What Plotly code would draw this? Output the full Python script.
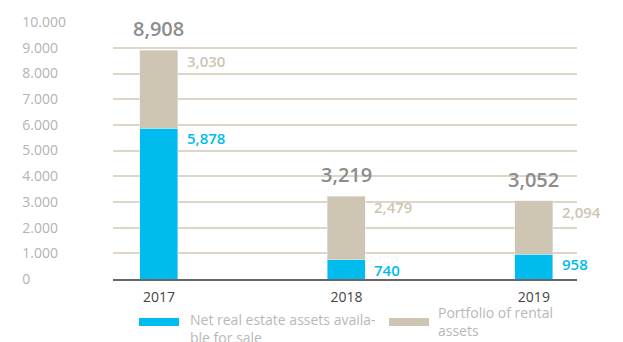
import plotly.graph_objects as go

years = ["2017", "2018", "2019"]
for_sale = [5878, 740, 958]
rental = [3030, 2479, 2094]
totals = [8908, 3219, 3052]

y_ticks = [0, 1000, 2000, 3000, 4000, 5000, 6000, 7000, 8000, 9000, 10000]
y_tick_text = ["0\u2007\u2007\u2007\u2007\u2008", "1.000\u2007", "2.000\u2007", "3.000\u2007",
               "4.000\u2007", "5.000\u2007", "6.000\u2007", "7.000\u2007", "8.000\u2007",
               "9.000\u2007", "10.000"]

legend_names = ["Net real estate assets availa-<br>ble for sale", "Portfolio of rental<br>assets"]

BLUE = "#00bbee"
BEIGE = "#cec5b2"
FONT = "Open Sans"

# plot area geometry in pixels
W, H = 623, 342
L, R, T, B = 113, 46, 16, 63
PW, PH = W - L - R, H - T - B

fig = go.Figure()
fig.add_bar(x=years, y=for_sale, marker_color=BLUE, width=0.203, name=legend_names[0])
fig.add_bar(x=years, y=rental, marker_color=BEIGE, width=0.203, name=legend_names[1])

ann = []
for i, (a, b, t) in enumerate(zip(for_sale, rental, totals)):
    ann.append(dict(x=i, y=a + b, text=f"{t:,}", showarrow=False, yanchor="bottom",
                    xanchor="center", yshift=6,
                    font=dict(family=FONT, size=20, color="#8c8c8c", weight=600)))
    ann.append(dict(x=i, y=a + b, text=f"{b:,}", showarrow=False, yanchor="top",
                    xanchor="left", xshift=26, yshift=1,
                    font=dict(family=FONT, size=15, color=BEIGE, weight=600)))
    ann.append(dict(x=i, y=a, text=f"{a:,}", showarrow=False, yanchor="top",
                    xanchor="left", xshift=26, yshift=2,
                    font=dict(family=FONT, size=15, color=BLUE, weight=600)))


def px_x(p):
    return (p - L) / PW


def px_y(p):
    return (T + PH - p) / PH


shapes = []
legend_items = [(139, 319, BLUE, 188, 309), (389, 319, BEIGE, 436, 302)]
for (sx, sy, col, tx, ty), name in zip(legend_items, legend_names):
    shapes.append(dict(type="rect", xref="paper", yref="paper",
                       x0=px_x(sx), x1=px_x(sx + 40), y0=px_y(sy), y1=px_y(sy + 8),
                       fillcolor=col, line=dict(width=0)))
    ann.append(dict(xref="paper", yref="paper", x=px_x(tx), y=px_y(ty), text=name,
                    showarrow=False, xanchor="left", yanchor="top", align="left",
                    font=dict(family=FONT, size=14, color="#b8b8b8")))

fig.update_layout(
    barmode="stack",
    width=W, height=H,
    margin=dict(l=L, r=R, t=T, b=B),
    paper_bgcolor="white", plot_bgcolor="white",
    showlegend=False,
    annotations=ann,
    shapes=shapes,
    font=dict(family=FONT),
)
fig.update_xaxes(type="category", range=[-0.245, 2.23], showgrid=False,
                 showline=True, linecolor="#666666", linewidth=2,
                 tickfont=dict(family=FONT, size=14, color="#444444"),
                 ticks="", ticklabelstandoff=4)
fig.update_yaxes(range=[0, 10005], tickvals=y_ticks, ticktext=y_tick_text,
                 showgrid=True, gridcolor="#ddd5c6", gridwidth=1.5, zeroline=False,
                 tickfont=dict(family=FONT, size=14, color="#b3b3b3"),
                 ticks="", ticklabelstandoff=46)

fig.write_html("out.html")
